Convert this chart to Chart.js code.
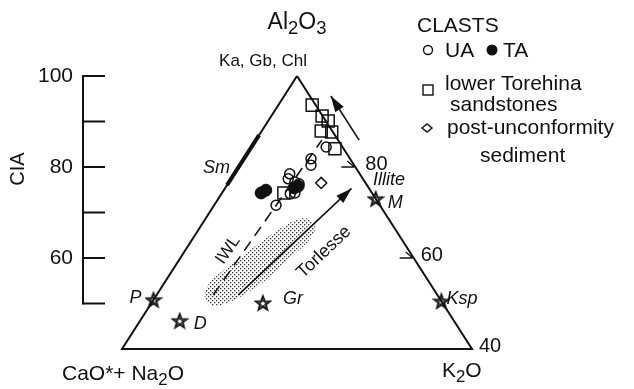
<!DOCTYPE html>
<html><head><meta charset="utf-8">
<script src="https://cdn.jsdelivr.net/npm/chart.js@4.4.1/dist/chart.umd.min.js"></script>
<style>html,body{margin:0;padding:0;background:#fff;overflow:hidden}canvas{display:block}</style>
</head><body>
<canvas id="c" width="634" height="389" style="width:634px;height:389px"></canvas>
<script>
// ---- Data (ternary A = Al2O3, K = K2O, CN = 100 - A - K) ----
const uaA = [81.8, 80.4, 78.5, 77.4, 76.7, 76.3, 74.1, 74.3, 71.6, 84.4];
const uaK = [11.5, 12.2, 9.5, 9.8, 11.3, 12.2, 11.8, 12.5, 10.6, 12.8];
const taA = [74.3, 74.9, 75.4, 75.8];
const taK = [6.7, 7.2, 11.8, 12.3];
const ltA = [93.6, 91.2, 90.1, 87.9, 87.7, 84.0, 74.3];
const ltK = [5.8, 8.7, 10.3, 10.2, 12.1, 14.5, 10.6];
const puA = [76.5];
const puK = [15.9];
const refNames = ['P', 'D', 'Gr', 'M', 'Ksp'];
const refA = [50.8, 46.2, 50.1, 73.0, 50.5];
const refK = [0, 6.8, 19.1, 27.0, 49.5];
// Torlesse field outline
const fieldA = [53.0, 55.6, 60.0, 64.0, 68.4, 69.0, 67.0, 64.4, 60.0, 55.2, 50.8, 49.0, 50.8];
const fieldK = [7.7, 7.8, 10.2, 12.2, 15.1, 17.4, 19.8, 20.5, 18.8, 17.3, 14.3, 11.1, 8.7];
// trend lines
const iwlA = [51.9, 85.9], iwlK = [9.7, 11.3];
const torA = [51.9, 75.3], torK = [14.0, 21.7];
const wthA = [85.9, 95.6], wthK = [17.7, 8.0];
const smA = [76, 87], smK = [0, 0];
// frame (truncated at A = 40)
const frameA = [100, 40, 40, 100], frameK = [0, 0, 60, 0];
// scales
const ciaTicks = [50, 60, 70, 80, 90, 100];
const ciaLabels = [60, 80, 100];
const edgeTicks = [80, 60];
const edgeLabels = [80, 60, 40];

const INK = '#111111';
const FONT = '"Liberation Sans", Arial, Helvetica, sans-serif';
function T(A, K) { return { x: K + A / 2, y: A }; }
function pts(a, k) { return a.map((v, i) => T(v, k[i])); }

function makeStar() {
  const c = document.createElement('canvas'); c.width = 18; c.height = 18;
  const g = c.getContext('2d');
  function star(ro, ri, lw) {
    g.lineWidth = lw; g.beginPath();
    for (let i = 0; i < 10; i++) {
      const r = i % 2 ? ri : ro, ang = -Math.PI / 2 + i * Math.PI / 5;
      const x = 9 + r * Math.cos(ang), y = 9.6 + r * Math.sin(ang);
      i ? g.lineTo(x, y) : g.moveTo(x, y);
    }
    g.closePath(); g.stroke();
  }
  g.strokeStyle = INK; g.lineJoin = 'miter';
  star(7.6, 3.2, 1.7); star(4.0, 1.8, 1.0);
  return c;
}
const starImg = makeStar();

function pix(chart, A, K) {
  const p = T(A, K);
  return { x: chart.scales.x.getPixelForValue(p.x), y: chart.scales.y.getPixelForValue(p.y) };
}
function rich(ctx, x, y, parts, size, align, italic) {
  const f = (s) => (italic ? 'italic ' : '') + s + 'px ' + FONT;
  let w = 0;
  parts.forEach(([t, sub]) => { ctx.font = f(sub ? size * 0.8 : size); w += ctx.measureText(t).width; });
  let cx = align === 'center' ? x - w / 2 : align === 'right' ? x - w : x;
  ctx.textAlign = 'left'; ctx.textBaseline = 'alphabetic';
  parts.forEach(([t, sub]) => {
    ctx.font = f(sub ? size * 0.8 : size);
    ctx.fillText(t, cx, y + (sub ? size * 0.22 : 0));
    cx += ctx.measureText(t).width;
  });
}
function txt(ctx, s, x, y, size, align, italic, base) {
  ctx.font = (italic ? 'italic ' : '') + size + 'px ' + FONT;
  ctx.textAlign = align || 'left'; ctx.textBaseline = base || 'alphabetic';
  ctx.fillText(s, x, y);
}
function arrowHead(ctx, from, to, len, hw) {
  const dx = to.x - from.x, dy = to.y - from.y, L = Math.hypot(dx, dy);
  const ux = dx / L, uy = dy / L;
  const bx = to.x - ux * len, by = to.y - uy * len;
  ctx.beginPath();
  ctx.moveTo(to.x, to.y);
  ctx.lineTo(bx - uy * hw, by + ux * hw);
  ctx.lineTo(bx + uy * hw, by - ux * hw);
  ctx.closePath(); ctx.fill();
}

const decor = {
  id: 'decor',
  beforeDatasetsDraw(chart) {
    const ctx = chart.ctx;
    const tile = document.createElement('canvas'); tile.width = 4; tile.height = 4;
    const tg = tile.getContext('2d'); tg.fillStyle = '#333333';
    tg.fillRect(0, 0, 1.3, 1.3); tg.fillRect(2, 2, 1.3, 1.3);
    const p = fieldA.map((a, i) => pix(chart, a, fieldK[i]));
    const n = p.length, mid = (a, b) => ({ x: (a.x + b.x) / 2, y: (a.y + b.y) / 2 });
    ctx.save();
    ctx.beginPath();
    const s = mid(p[n - 1], p[0]); ctx.moveTo(s.x, s.y);
    for (let i = 0; i < n; i++) { const m = mid(p[i], p[(i + 1) % n]); ctx.quadraticCurveTo(p[i].x, p[i].y, m.x, m.y); }
    ctx.closePath();
    ctx.fillStyle = ctx.createPattern(tile, 'repeat'); ctx.fill();
    ctx.restore();
  },
  afterDatasetsDraw(chart) {
    const ctx = chart.ctx, ys = chart.scales.y;
    ctx.save();
    ctx.fillStyle = INK; ctx.strokeStyle = INK;
    // arrowheads
    arrowHead(ctx, pix(chart, torA[0], torK[0]), pix(chart, torA[1], torK[1]), 16, 5);
    arrowHead(ctx, pix(chart, wthA[0], wthK[0]), pix(chart, wthA[1], wthK[1]), 16, 5);
    // CIA axis
    const ax = 83;
    ctx.lineWidth = 2; ctx.lineCap = 'butt';
    ctx.beginPath();
    ctx.moveTo(ax, ys.getPixelForValue(100) - 1); ctx.lineTo(ax, ys.getPixelForValue(50) + 1); ctx.stroke();
    ciaTicks.forEach(v => { const y = ys.getPixelForValue(v); ctx.beginPath(); ctx.moveTo(ax, y); ctx.lineTo(105, y); ctx.stroke(); });
    ciaLabels.forEach(v => txt(ctx, String(v), 73, ys.getPixelForValue(v), 21, 'right', false, 'middle'));
    ctx.save(); ctx.translate(18, 169); ctx.rotate(-Math.PI / 2); txt(ctx, 'CIA', 0, 0, 20, 'center', false, 'middle'); ctx.restore();
    // right edge ticks
    ctx.lineWidth = 1.3;
    edgeTicks.forEach(v => {
      const e = pix(chart, v, 100 - v);
      ctx.beginPath(); ctx.moveTo(e.x - 14, e.y); ctx.lineTo(e.x - 1, e.y);
      ctx.moveTo(e.x - 8, e.y - 6); ctx.lineTo(e.x - 1, e.y); ctx.stroke();
    });
    edgeLabels.forEach(v => { const e = pix(chart, v, 100 - v); txt(ctx, String(v), e.x + (v === 80 ? 10 : 7), e.y - 3, 20, 'left', false, 'middle'); });
    // apex & corner labels
    const apex = pix(chart, 100, 0);
    txt(ctx, 'Ka, Gb, Chl', apex.x - 34, 66, 17, 'center');
    rich(ctx, apex.x, 29, [['Al', 0], ['2', 1], ['O', 0], ['3', 1]], 23, 'center');
    rich(ctx, 62, 380, [['CaO*+ Na', 0], ['2', 1], ['O', 0]], 21, 'left');
    rich(ctx, 442, 377, [['K', 0], ['2', 1], ['O', 0]], 21, 'left');
    // reference labels
    const rp = refA.map((a, i) => pix(chart, a, refK[i]));
    txt(ctx, 'P', rp[0].x - 12, rp[0].y - 2, 18, 'right', true, 'middle');
    txt(ctx, 'D', rp[1].x + 14, rp[1].y + 3, 18, 'left', true, 'middle');
    txt(ctx, 'Gr', rp[2].x + 20, rp[2].y - 4, 18, 'left', true, 'middle');
    txt(ctx, 'M', rp[3].x + 12, rp[3].y + 4, 18, 'left', true, 'middle');
    txt(ctx, 'Ksp', rp[4].x + 5, rp[4].y - 2, 18, 'left', true, 'middle');
    txt(ctx, 'Illite', 373, 180, 18, 'left', true, 'middle');
    txt(ctx, 'Sm', 203, 168, 18, 'left', true, 'middle');
    // rotated labels
    ctx.save(); ctx.translate(228, 250); ctx.rotate(-55 * Math.PI / 180); txt(ctx, 'IWL', 0, 0, 17, 'center', false, 'middle'); ctx.restore();
    ctx.save(); ctx.translate(324, 252); ctx.rotate(-43.5 * Math.PI / 180); txt(ctx, 'Torlesse', 0, 0, 18, 'center', false, 'middle'); ctx.restore();
    // legend
    txt(ctx, 'CLASTS', 417, 32, 21, 'left');
    ctx.lineWidth = 1.4;
    ctx.beginPath(); ctx.arc(428, 50, 4.5, 0, Math.PI * 2); ctx.stroke();
    txt(ctx, 'UA', 445, 57, 21, 'left');
    ctx.beginPath(); ctx.arc(492, 50, 5.5, 0, Math.PI * 2); ctx.fill();
    txt(ctx, 'TA', 503, 57, 21, 'left');
    ctx.strokeRect(423, 85, 10, 10);
    txt(ctx, 'lower Torehina', 445, 90, 21, 'left');
    txt(ctx, 'sandstones', 450, 111, 21, 'left');
    ctx.beginPath(); ctx.moveTo(422, 128); ctx.lineTo(427, 124); ctx.lineTo(432, 128); ctx.lineTo(427, 132); ctx.closePath(); ctx.stroke();
    txt(ctx, 'post-unconformity', 447, 134, 21, 'left');
    txt(ctx, 'sediment', 480, 162, 21, 'left');
    ctx.restore();
  }
};

const common = { borderColor: INK, clip: false };
const lineDs = (label, a, k, extra) => Object.assign({ label, data: pts(a, k), showLine: true, pointRadius: 0, borderWidth: 1.6, fill: false }, common, extra || {});

new Chart(document.getElementById('c'), {
  type: 'scatter',
  data: {
    datasets: [
      Object.assign({ label: 'UA', data: pts(uaA, uaK), pointStyle: 'circle', pointRadius: 5, borderWidth: 1.5, backgroundColor: 'rgba(255,255,255,0)' }, common),
      Object.assign({ label: 'TA', data: pts(taA, taK), pointStyle: 'circle', pointRadius: 6, borderWidth: 1, backgroundColor: INK }, common),
      Object.assign({ label: 'lower Torehina sandstones', data: pts(ltA, ltK), pointStyle: 'rect', pointRadius: 8.5, borderWidth: 1.5, backgroundColor: 'rgba(255,255,255,0)' }, common),
      Object.assign({ label: 'post-unconformity sediment', data: pts(puA, puK), pointStyle: 'rectRot', pointRadius: 5.5, borderWidth: 1.5, backgroundColor: 'rgba(255,255,255,0)' }, common),
      Object.assign({ label: 'reference', data: pts(refA, refK), pointStyle: starImg, pointRadius: 9 }, common),
      lineDs('IWL', iwlA, iwlK, { borderDash: [11, 7] }),
      lineDs('Torlesse', torA, torK),
      lineDs('weathering', wthA, wthK),
      lineDs('Sm', smA, smK, { borderWidth: 4 }),
      lineDs('frame', frameA, frameK, { borderWidth: 2, borderJoinStyle: 'miter' })
    ]
  },
  options: {
    responsive: false, animation: false, devicePixelRatio: 1,
    layout: { padding: { left: 122, right: 162, top: 76, bottom: 40 } },
    scales: {
      x: { type: 'linear', min: 20, max: 80, display: false },
      y: { type: 'linear', min: 40, max: 100, display: false }
    },
    plugins: { legend: { display: false }, tooltip: { enabled: false } }
  },
  plugins: [decor]
});
</script>
</body></html>
